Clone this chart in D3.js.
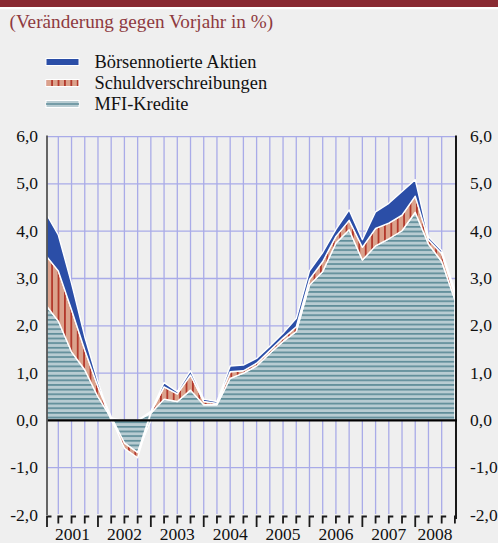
<!DOCTYPE html>
<html><head><meta charset="utf-8">
<script src="https://cdn.jsdelivr.net/npm/d3@7"></script>
<style>
html,body{margin:0;padding:0;background:#efefef;}
svg{display:block;}
</style></head>
<body><svg id="c" width="498" height="543" font-family="'Liberation Serif','DejaVu Serif','Noto Serif',serif"></svg>
<script>
// ---- data (quarterly, stacked contributions, % yoy) ----
const quarterIndex = d3.range(32);
const mfiKredite = [2.46,2.10,1.45,1.07,0.50,0.05,-0.48,-0.68,0.15,0.45,0.40,0.64,0.33,0.33,0.89,1.00,1.15,1.42,1.67,1.88,2.86,3.15,3.75,4.03,3.39,3.69,3.84,4.01,4.40,3.73,3.36,2.55];
const schuldverschreibungen = [1.05,1.06,0.89,0.42,0.21,0.03,-0.11,-0.11,0.02,0.26,0.16,0.32,0.07,0.03,0.14,0.05,0.06,0.06,0.07,0.10,0.12,0.21,0.14,0.20,0.27,0.37,0.33,0.33,0.34,0.09,0.17,0.10];
const aktien = [0.90,0.76,0.56,0.28,0.11,0.00,0.00,0.00,0.02,0.09,0.05,0.09,0.05,0.04,0.12,0.12,0.10,0.09,0.10,0.18,0.18,0.19,0.15,0.22,0.16,0.35,0.42,0.50,0.35,0.06,0.06,0.09];
const years = ["2001","2002","2003","2004","2005","2006","2007","2008"];
const yTicks = [-2,-1,0,1,2,3,4,5,6];
const seriesNames = ["MFI-Kredite","Schuldverschreibungen","Börsennotierte Aktien"];
const title = "(Veränderung gegen Vorjahr in %)";

const svg = d3.select("#c");
const FF = "'Liberation Serif','DejaVu Serif','Noto Serif',serif";
const L = 47, R = 456, T = 136.6, B = 515;
const x = d3.scaleLinear().domain([0,31]).range([45.1,454.9]);
const y = d3.scaleLinear().domain([-2,6]).range([B,T]);

// top bar
svg.append("rect").attr("x",0).attr("y",0).attr("width",498).attr("height",7).attr("fill","#8a2b33");
svg.append("rect").attr("x",0).attr("y",7).attr("width",498).attr("height",2.3).attr("fill","#ffffff");
svg.append("text").attr("x",9.5).attr("y",28).attr("font-family",FF).attr("font-size",19.2).attr("fill","#8e3a40").text(title);

// patterns
const defs = svg.append("defs");
const pM = defs.append("pattern").attr("id","pMFI").attr("patternUnits","userSpaceOnUse").attr("width",8).attr("height",4.65);
pM.append("rect").attr("width",8).attr("height",4.65).attr("fill","#b8ccd2");
pM.append("rect").attr("y",2.8).attr("width",8).attr("height",1.7).attr("fill","#5f8d99");
const pS = defs.append("pattern").attr("id","pS").attr("patternUnits","userSpaceOnUse").attr("width",6.4).attr("height",8);
pS.append("rect").attr("width",6.4).attr("height",8).attr("fill","#dba28c");
pS.append("rect").attr("x",0).attr("width",1.8).attr("height",8).attr("fill","#b3382b");
defs.append("clipPath").attr("id","clip").append("rect").attr("x",L).attr("y",0).attr("width",R-L).attr("height",543);

// grid
const g = svg.append("g");
g.selectAll("line.h").data(yTicks.filter(v=>v!==0 && v!==-2)).join("line")
  .attr("x1",L).attr("x2",R).attr("y1",d=>y(d)).attr("y2",d=>y(d))
  .attr("stroke","#a9abe8").attr("stroke-width",1.3);
g.selectAll("line.v").data(quarterIndex.filter(i=>i>0&&i<31)).join("line")
  .attr("x1",d=>x(d)).attr("x2",d=>x(d)).attr("y1",T).attr("y2",B-1)
  .attr("stroke","#a9abe8").attr("stroke-width",1.3);

// stacked areas
const rows = quarterIndex.map(i=>({i, m:mfiKredite[i], s:schuldverschreibungen[i], a:aktien[i]}));
const stack = d3.stack().keys(["m","s","a"]).offset(d3.stackOffsetDiverging);
const layers = stack(rows);
const fills = ["url(#pMFI)","url(#pS)","#2b4ea7"];
const area = d3.area().x(d=>x(d.data.i)).y0(d=>y(d[0])).y1(d=>y(d[1]));
const ga = svg.append("g").attr("clip-path","url(#clip)");
ga.selectAll("path").data(layers).join("path")
  .attr("d",area).attr("fill",(d,k)=>fills[k])
  .attr("stroke","#ffffff").attr("stroke-width",1.4).attr("stroke-linejoin","round");

// zero line & axes
svg.append("line").attr("x1",L).attr("x2",R+1).attr("y1",y(0)).attr("y2",y(0)).attr("stroke","#000").attr("stroke-width",2.4);
svg.append("line").attr("x1",L).attr("x2",L).attr("y1",T-1).attr("y2",B).attr("stroke","#555").attr("stroke-width",1.8);
svg.append("line").attr("x1",R).attr("x2",R).attr("y1",T-1).attr("y2",B+4).attr("stroke","#000").attr("stroke-width",1.8);

// y labels
const fmt = v=>d3.format(".1f")(v).replace(".",",").replace("\u2212","-");
svg.selectAll("text.yl").data(yTicks).join("text").attr("class","yl")
  .attr("x",38).attr("y",d=>y(d)+5.5).attr("text-anchor","end").attr("font-family",FF).attr("font-size",17.5).attr("fill","#111").text(fmt);
svg.selectAll("text.yr").data(yTicks).join("text").attr("class","yr")
  .attr("x",470).attr("y",d=>y(d)+5.5).attr("text-anchor","start").attr("font-family",FF).attr("font-size",17.5).attr("fill","#111").text(fmt);

// bottom ticks
const tk = svg.append("g");
quarterIndex.forEach(i=>{
  const xx = Math.max(L, x(i));
  const len = (i%4===0) ? 11 : 7.5;
  tk.append("path").attr("d",`M${xx},${516+len}V516.5H${Math.min(xx+4.5,R)}`)
    .attr("fill","none").attr("stroke","#1a1a1a").attr("stroke-width",1.8);
});
// year labels
svg.selectAll("text.yr2").data(years).join("text")
  .attr("x",(d,k)=>(Math.max(L,x(4*k))+x(Math.min(4*k+4,31)))/2)
  .attr("y",540).attr("text-anchor","middle").attr("font-family",FF).attr("font-size",17.5).attr("fill","#111").text(d=>d);

// legend
const leg = svg.append("g");
const legY = [62,83,104];
const legOrder = [2,1,0];
legOrder.forEach((k,j)=>{
  const yy = legY[j];
  if(k===2){
    leg.append("rect").attr("x",46).attr("y",yy-3.5).attr("width",33).attr("height",7).attr("fill","#2b4ea7").attr("stroke","#fff").attr("stroke-width",1);
  } else if(k===1){
    leg.append("rect").attr("x",46).attr("y",yy-3.5).attr("width",33).attr("height",7).attr("fill","url(#pS)").attr("stroke","#fff").attr("stroke-width",1);
  } else {
    leg.append("rect").attr("x",46).attr("y",yy-3.5).attr("width",33).attr("height",7).attr("fill","#b8ccd2").attr("stroke","#fff").attr("stroke-width",1);
    leg.append("line").attr("x1",46).attr("x2",79).attr("y1",yy).attr("y2",yy).attr("stroke","#5f8d99").attr("stroke-width",1.5);
  }
  leg.append("text").attr("x",94.5).attr("y",yy+5.8).attr("font-family",FF).attr("font-size",18.4).attr("fill","#111").text(seriesNames[k]);
});
</script></body></html>
